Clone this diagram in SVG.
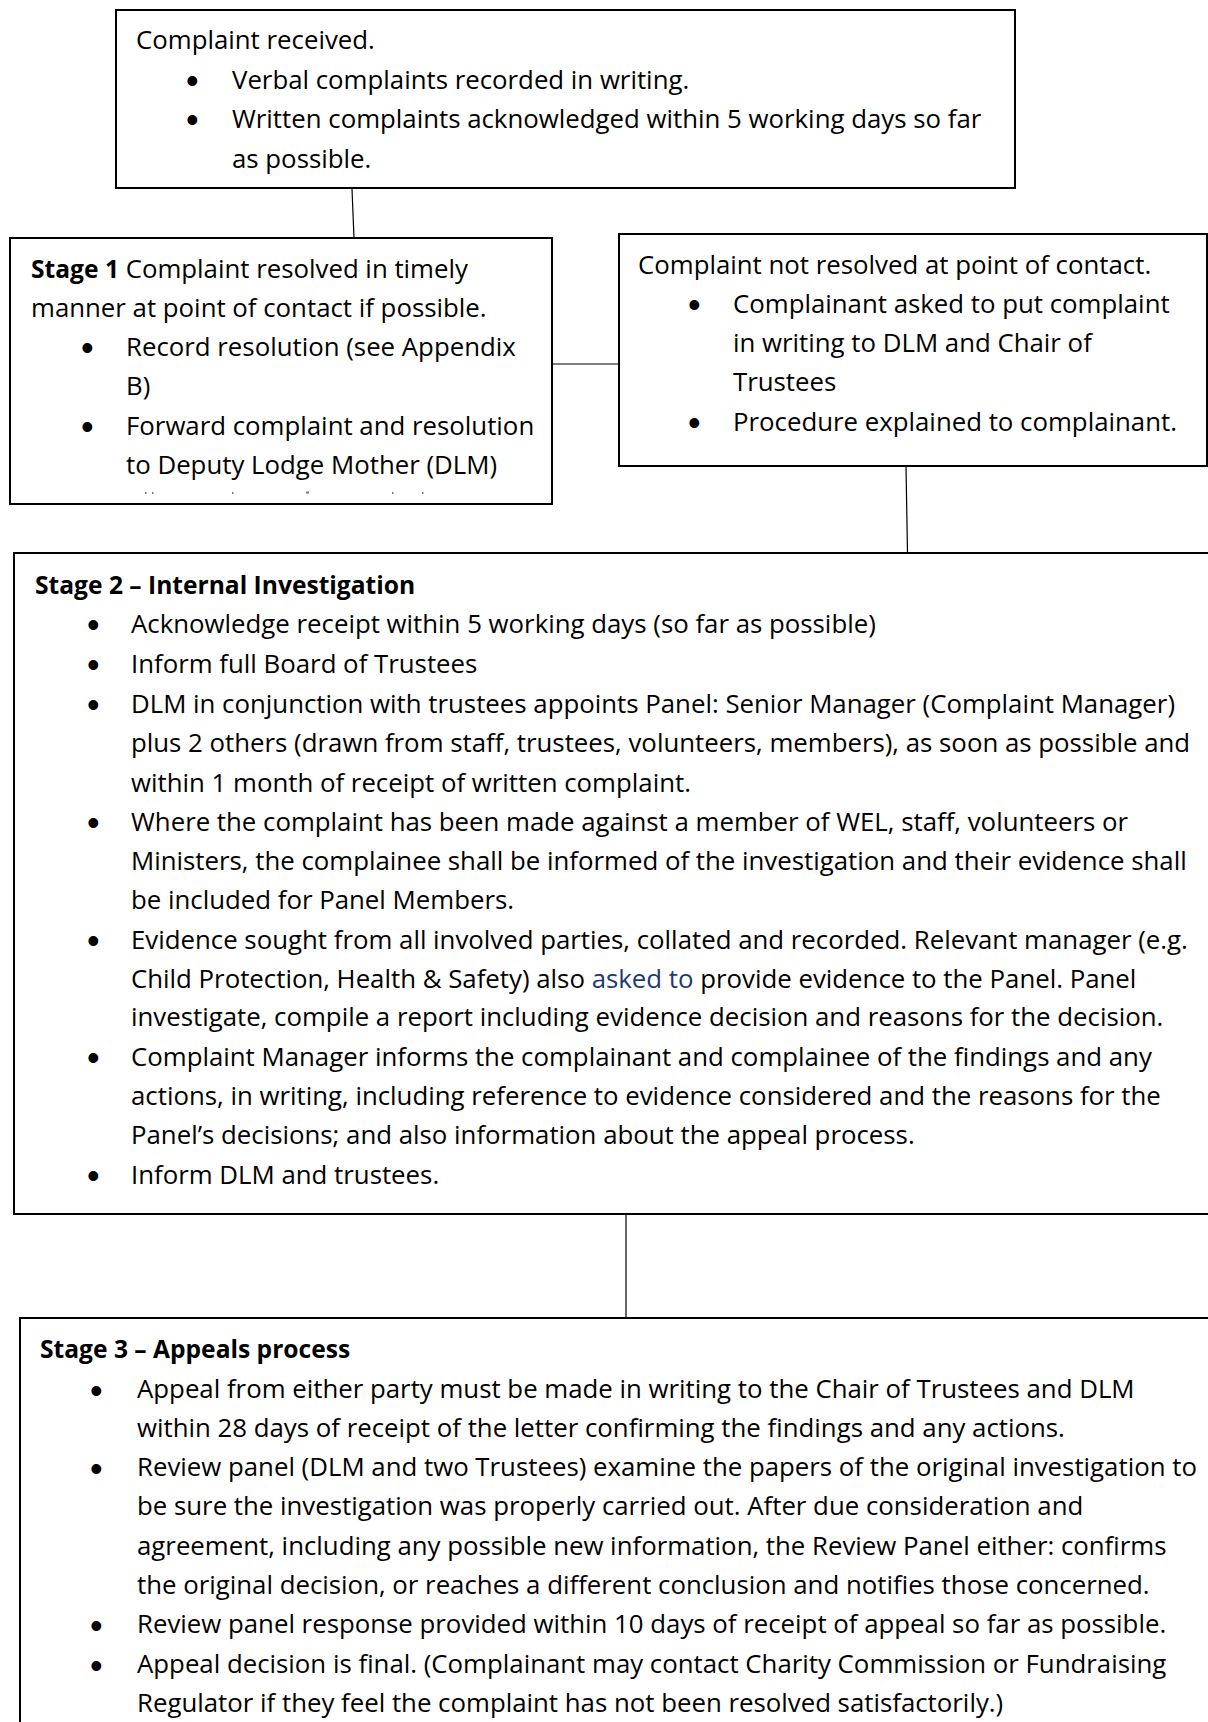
<svg xmlns="http://www.w3.org/2000/svg" width="1208" height="1722" viewBox="0 0 1208 1722">
<style>
.box{fill:#fff;stroke:#000;stroke-width:2}
.con{stroke:#000;stroke-width:1.2;fill:none}
text{font-family:"Open Sans","Noto Sans","Liberation Sans",sans-serif;font-size:25.8px;fill:#000}
.b{font-weight:700;font-size:24.6px}
.bl{font-family:"Liberation Sans",Arial,sans-serif;font-size:36px}
.blue{fill:#1f3a70}
.mk{fill:#777}
</style>
<rect width="1208" height="1722" fill="#fff"/>
<g id="connectors">
<line class="con" x1="352" y1="189" x2="354" y2="238"/>
<line class="con" x1="552" y1="364" x2="619" y2="364"/>
<line class="con" x1="906" y1="466" x2="907.5" y2="553"/>
<line class="con" x1="626" y1="1214" x2="626" y2="1318"/>
</g>
<g id="received">
<rect class="box" x="116" y="10" width="899" height="178"/>
<text x="136" y="49">Complaint received.</text>
<text class="bl" x="186" y="93">•</text>
<text x="232" y="89">Verbal complaints recorded in writing.</text>
<text class="bl" x="186" y="132">•</text>
<text x="232" y="128">Written complaints acknowledged within 5 working days so far</text>
<text x="232" y="168">as possible.</text>
</g>
<g id="stage1">
<rect class="box" x="10" y="238" width="542" height="266"/>
<text x="31" y="277.5"><tspan class="b">Stage 1</tspan> Complaint resolved in timely</text>
<text x="31" y="316.5">manner at point of contact if possible.</text>
<text class="bl" x="81" y="360">•</text>
<text x="126" y="355.5">Record resolution (see Appendix</text>
<text x="126" y="394.5">B)</text>
<text class="bl" x="81" y="439">•</text>
<text x="126" y="434.5">Forward complaint and resolution</text>
<text x="126" y="473.5">to Deputy Lodge Mother (DLM)</text>
<rect class="mk" x="145" y="492" width="1.5" height="2"/>
<rect class="mk" x="152" y="492" width="1.5" height="2"/>
<rect class="mk" x="232" y="492" width="1.5" height="2"/>
<rect class="mk" x="306" y="491.5" width="3" height="2"/>
<rect class="mk" x="392" y="492" width="1.5" height="2"/>
<rect class="mk" x="422" y="492" width="1.5" height="2"/>
</g>
<g id="not-resolved">
<rect class="box" x="619" y="234" width="588" height="232"/>
<text x="638" y="273.5">Complaint not resolved at point of contact.</text>
<text class="bl" x="688" y="317">•</text>
<text x="733" y="312.5">Complainant asked to put complaint</text>
<text x="733" y="351.5">in writing to DLM and Chair of</text>
<text x="733" y="390.5">Trustees</text>
<text class="bl" x="688" y="435">•</text>
<text x="733" y="430.5">Procedure explained to complainant.</text>
</g>
<g id="stage2">
<rect class="box" x="14" y="553" width="1210" height="661"/>
<text x="35" y="593.5" class="b">Stage 2 – Internal Investigation</text>
<text class="bl" x="87" y="637">•</text>
<text x="131" y="632.5">Acknowledge receipt within 5 working days (so far as possible)</text>
<text class="bl" x="87" y="677">•</text>
<text x="131" y="672.5">Inform full Board of Trustees</text>
<text class="bl" x="87" y="717">•</text>
<text x="131" y="712.5">DLM in conjunction with trustees appoints Panel: Senior Manager (Complaint Manager)</text>
<text x="131" y="751.5">plus 2 others (drawn from staff, trustees, volunteers, members), as soon as possible and</text>
<text x="131" y="791.5">within 1 month of receipt of written complaint.</text>
<text class="bl" x="87" y="835">•</text>
<text x="131" y="830.5">Where the complaint has been made against a member of WEL, staff, volunteers or</text>
<text x="131" y="869.5">Ministers, the complainee shall be informed of the investigation and their evidence shall</text>
<text x="131" y="908.5">be included for Panel Members.</text>
<text class="bl" x="87" y="953">•</text>
<text x="131" y="948.5">Evidence sought from all involved parties, collated and recorded. Relevant manager (e.g.</text>
<text x="131" y="987.5">Child Protection, Health &amp; Safety) also <tspan class="blue">asked to</tspan> provide evidence to the Panel. Panel</text>
<text x="131" y="1025.5">investigate, compile a report including evidence decision and reasons for the decision.</text>
<text class="bl" x="87" y="1070">•</text>
<text x="131" y="1065.5">Complaint Manager informs the complainant and complainee of the findings and any</text>
<text x="131" y="1104.5">actions, in writing, including reference to evidence considered and the reasons for the</text>
<text x="131" y="1143.5">Panel’s decisions; and also information about the appeal process.</text>
<text class="bl" x="87" y="1188">•</text>
<text x="131" y="1183.5">Inform DLM and trustees.</text>
</g>
<g id="stage3">
<rect class="box" x="20" y="1318" width="1210" height="420"/>
<text x="40" y="1358" class="b">Stage 3 – Appeals process</text>
<text class="bl" x="90" y="1402.5">•</text>
<text x="137" y="1398">Appeal from either party must be made in writing to the Chair of Trustees and DLM</text>
<text x="137" y="1437">within 28 days of receipt of the letter confirming the findings and any actions.</text>
<text class="bl" x="90" y="1480.5">•</text>
<text x="137" y="1476">Review panel (DLM and two Trustees) examine the papers of the original investigation to</text>
<text x="137" y="1515">be sure the investigation was properly carried out.  After due consideration and</text>
<text x="137" y="1555">agreement, including any possible new information, the Review Panel either: confirms</text>
<text x="137" y="1594">the original decision, or reaches a different conclusion and notifies those concerned.</text>
<text class="bl" x="90" y="1637.5">•</text>
<text x="137" y="1633">Review panel response provided within 10 days of receipt of appeal so far as possible.</text>
<text class="bl" x="90" y="1677.5">•</text>
<text x="137" y="1673">Appeal decision is final. (Complainant may contact Charity Commission or Fundraising</text>
<text x="137" y="1712">Regulator if they feel the complaint has not been resolved satisfactorily.)</text>
</g>
</svg>
